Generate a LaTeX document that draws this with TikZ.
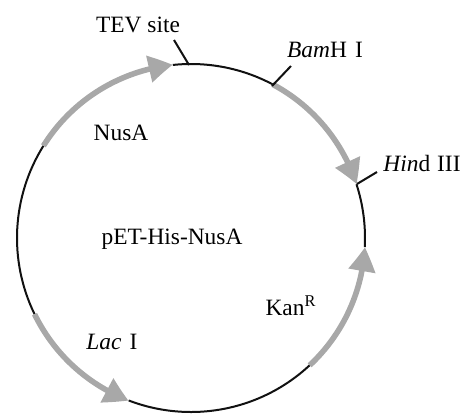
\documentclass[tikz,border=0pt]{standalone}
\usepackage{fontspec}
\setmainfont{Liberation Serif}
\usetikzlibrary{arrows.meta,bending}
\definecolor{gene}{HTML}{A8A8A8}
\definecolor{ink} {HTML}{111111}

\begin{document}
\begin{tikzpicture}[x=0.5pt,y=0.5pt,
    backbone/.style={draw=ink,line width=1pt},
    genearc/.style={draw=gene,line width=2.8pt,
                    -{Triangle[length=12pt,width=13pt,bend]}},
    cutsite/.style={draw=ink,line width=1pt},
    lbl/.style={anchor=base,inner sep=0pt,font=\fontsize{11.7}{14}\selectfont}]
  \useasboundingbox (-191,-176) rectangle (270,238);
  % plasmid backbone
  \draw[backbone] (96:174)  arc[start angle=96, end angle=62,  radius=174];
  \draw[backbone] (18:174)  arc[start angle=18, end angle=-3,  radius=174];
  \draw[backbone] (-47:174) arc[start angle=-47,end angle=-111,radius=174];
  \draw[backbone] (148:174) arc[start angle=148,end angle=206, radius=174];
  % genes
  \draw[genearc] (148:174) arc[start angle=148,end angle=96, radius=174];
  \draw[genearc] (62:174)  arc[start angle=62, end angle=18, radius=174];
  \draw[genearc] (-47:174) arc[start angle=-47,end angle=-3, radius=174];
  \draw[genearc] (206:174) arc[start angle=206,end angle=249,radius=174];
  % cut sites
  \coordinate (tev)    at (-2,173);
  \coordinate (tevE)   at (-17,198);
  \coordinate (bam)    at (81,152);
  \coordinate (bamE)   at (100,172);
  \coordinate (hind)   at (166,54);
  \coordinate (hindE)  at (186,66);
  \draw[cutsite] (tev) -- (tevE);
  \draw[cutsite] (bam) -- (bamE);
  \draw[cutsite] (hind) -- (hindE);
  % labels
  \node[lbl] (tevL)  at (-53,206) {TEV site};
  \node[lbl] (bamL)  at (134,181) {\textit{Bam}H\hspace{0.35em}I};
  \node[lbl] (hindL) at (231,67)  {\textit{Hin}d\hspace{0.3em}III};
  \node[lbl] (nusa)  at (-70,98)  {NusA};
  \node[lbl] (name)  at (-19,-6)  {pET-His-NusA};
  \node[lbl] (kan)   at (100,-77) {Kan\textsuperscript{R}};
  \node[lbl] (lac)   at (-79,-111) {\textit{Lac}\hspace{0.35em}I};
\end{tikzpicture}
\end{document}
